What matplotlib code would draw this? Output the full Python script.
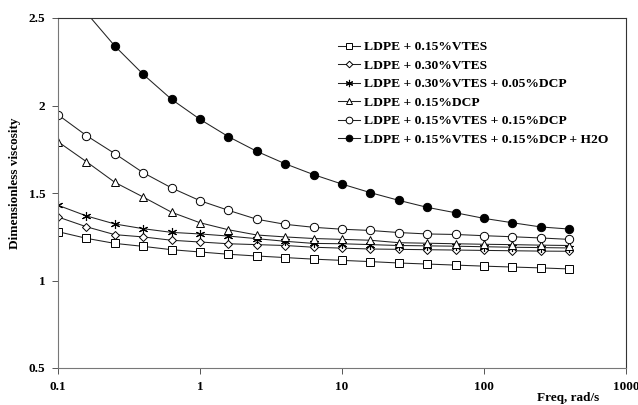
import matplotlib
matplotlib.use("Agg")
import matplotlib.pyplot as plt

plt.rcParams['font.family'] = ['Liberation Serif', 'DejaVu Serif']
plt.rcParams['font.weight'] = 'bold'

freq = [0.1, 0.1585, 0.2512, 0.3981, 0.631, 1.0, 1.585, 2.512, 3.981, 6.31,
        10.0, 15.85, 25.12, 39.81, 63.1, 100.0, 158.5, 251.2, 398.1]

vtes015 = [1.279, 1.241, 1.212, 1.195, 1.176, 1.163, 1.150, 1.140, 1.131, 1.122,
           1.115, 1.108, 1.100, 1.094, 1.088, 1.082, 1.077, 1.072, 1.066]
vtes030 = [1.363, 1.307, 1.262, 1.249, 1.230, 1.220, 1.210, 1.205, 1.200, 1.190,
           1.185, 1.180, 1.178, 1.176, 1.174, 1.172, 1.170, 1.168, 1.167]
vtes030_dcp005 = [1.430, 1.369, 1.323, 1.296, 1.275, 1.266, 1.254, 1.239, 1.224, 1.212,
                  1.210, 1.205, 1.200, 1.198, 1.196, 1.193, 1.190, 1.188, 1.186]
dcp015 = [1.793, 1.679, 1.561, 1.477, 1.390, 1.330, 1.290, 1.260, 1.249, 1.240,
          1.235, 1.230, 1.216, 1.213, 1.210, 1.207, 1.205, 1.202, 1.200]
vtes015_dcp015 = [1.947, 1.828, 1.725, 1.616, 1.529, 1.456, 1.401, 1.350, 1.321, 1.304,
                  1.293, 1.286, 1.274, 1.266, 1.263, 1.256, 1.250, 1.243, 1.235]
vtes015_dcp015_h2o = [2.75, 2.53, 2.34, 2.178, 2.035, 1.921, 1.822, 1.738, 1.667, 1.605,
                      1.551, 1.502, 1.458, 1.418, 1.387, 1.355, 1.330, 1.306, 1.294]

labels = ['LDPE + 0.15%VTES', 'LDPE + 0.30%VTES', 'LDPE + 0.30%VTES + 0.05%DCP',
          'LDPE + 0.15%DCP', 'LDPE + 0.15%VTES + 0.15%DCP',
          'LDPE + 0.15%VTES + 0.15%DCP + H2O']
series = [vtes015, vtes030, vtes030_dcp005, dcp015, vtes015_dcp015, vtes015_dcp015_h2o]
markers = ['s', 'D', '*', '^', 'o', 'o']
msizes = [5.5, 4.2, 6.5, 6, 6, 6]
faces = ['white', 'white', 'black', 'white', 'white', 'black']

xticks = [0.1, 1, 10, 100, 1000]
xticklabels = ['0.1', '1', '10', '100', '1000']
yticks = [0.5, 1.0, 1.5, 2.0, 2.5]
yticklabels = ['0.5', '1', '1.5', '2', '2.5']

W, H = 638, 405
fig = plt.figure(figsize=(W / 100, H / 100), dpi=100)
L, R, T, B = 58, 626, 18, 368
ax = fig.add_axes([L / W, 1 - B / H, (R - L) / W, (B - T) / H])

for vals, lab, m, ms, fc in zip(series, labels, markers, msizes, faces):
    if m == '*':
        ax.plot(freq, vals, color='#222222', lw=0.75, marker=(6, 2, 0), ms=ms,
                mec='black', mew=0.8, label=lab, clip_on=True)
    else:
        ax.plot(freq, vals, color='#222222', lw=0.75, marker=m, ms=ms,
                mfc=fc, mec='black', mew=0.7, label=lab, clip_on=True)

ax.set_xscale('log')
ax.set_xlim(0.1, 1000)
ax.set_ylim(0.5, 2.5)
ax.set_xticks(xticks)
ax.set_xticklabels(xticklabels)
ax.set_yticks(yticks)
ax.set_yticklabels(yticklabels)
ax.minorticks_off()
ax.tick_params(axis='both', direction='out', length=4, width=0.7,
               labelsize=9.5, color='#555555', pad=5)
for lbl in ax.get_xticklabels() + ax.get_yticklabels():
    lbl.set_fontweight('bold')
for s in ax.spines.values():
    s.set_linewidth(0.8)
    s.set_color('#333333')
ax.spines['left'].set_color('#777777')
ax.spines['bottom'].set_color('#777777')

fig.text(15 / W, 1 - 183 / H, 'Dimensionless viscosity', rotation=90,
         ha='center', va='center', fontsize=9.5, fontweight='bold')
fig.text(568 / W, 1 - 398 / H, 'Freq, rad/s', ha='center', va='center',
         fontsize=9.5, fontweight='bold')

leg = ax.legend(loc='upper left', bbox_to_anchor=(338 / W, 1 - 41 / H),
                bbox_transform=fig.transFigure, frameon=False, borderaxespad=0,
                borderpad=0, fontsize=9.7, handlelength=1.6, handletextpad=0.3,
                labelspacing=0.45, markerscale=0.8)
for t in leg.get_texts():
    t.set_fontweight('bold')

fig.savefig('out.png', dpi=100)
